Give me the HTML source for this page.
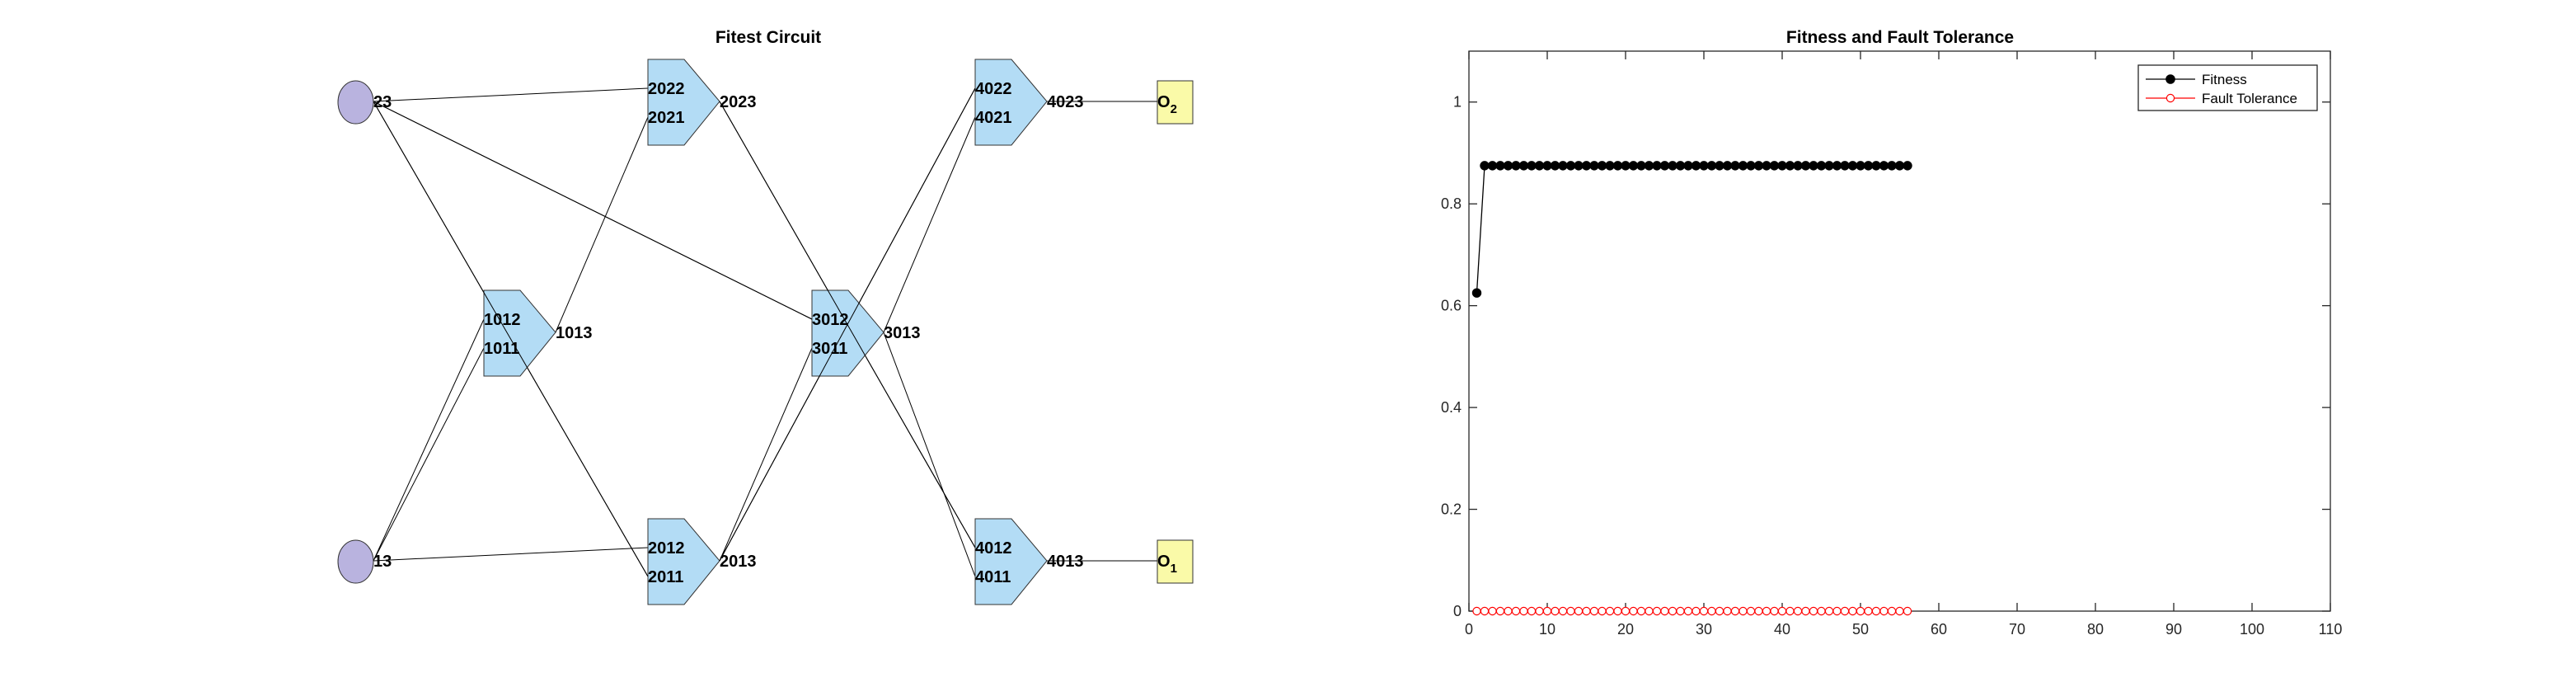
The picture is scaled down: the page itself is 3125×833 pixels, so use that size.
<!DOCTYPE html>
<html><head><meta charset="utf-8"><style>
html,body{margin:0;padding:0;background:#fff;}
svg{display:block;font-family:"Liberation Sans",Arial,sans-serif;}
</style></head><body>
<svg id="root" width="3125" height="833" viewBox="0 0 3125 833" xmlns="http://www.w3.org/2000/svg">
<rect width="3125" height="833" fill="#fff"/>
<g id="circuit">
<text x="932" y="52" text-anchor="middle" font-weight="bold" font-size="21">Fitest Circuit</text>
</g>
<g id="chart">
<text x="2305" y="52" text-anchor="middle" font-weight="bold" font-size="21">Fitness and Fault Tolerance</text>
</g>
</svg>
<script>
// ---------- Chart data ----------
const iterations = Array.from({length:56},(_,i)=>i+1);
const fitnessValues = [0.625,0.875,0.875,0.875,0.875,0.875,0.875,0.875,0.875,0.875,0.875,0.875,0.875,0.875,0.875,0.875,0.875,0.875,0.875,0.875,0.875,0.875,0.875,0.875,0.875,0.875,0.875,0.875,0.875,0.875,0.875,0.875,0.875,0.875,0.875,0.875,0.875,0.875,0.875,0.875,0.875,0.875,0.875,0.875,0.875,0.875,0.875,0.875,0.875,0.875,0.875,0.875,0.875,0.875,0.875,0.875];
const faultToleranceValues = [0,0,0,0,0,0,0,0,0,0,0,0,0,0,0,0,0,0,0,0,0,0,0,0,0,0,0,0,0,0,0,0,0,0,0,0,0,0,0,0,0,0,0,0,0,0,0,0,0,0,0,0,0,0,0,0];
const xTicks = [0,10,20,30,40,50,60,70,80,90,100,110];
const yTicks = [0,0.2,0.4,0.6,0.8,1];
const yTickLabels = ["0","0.2","0.4","0.6","0.8","1"];
const legendLabels = ["Fitness","Fault Tolerance"];

const NS="http://www.w3.org/2000/svg";
function mk(tag,attrs,parent){const e=document.createElementNS(NS,tag);for(const k in attrs)e.setAttribute(k,attrs[k]);parent.appendChild(e);return e;}

const X0=1782,X1=2827,Y0=741,Y1=62,XMAX=110,YMAX=1.1;
const sx=v=>X0+(v/XMAX)*(X1-X0);
const sy=v=>Y0-(v/YMAX)*(Y0-Y1);
const chart=document.getElementById('chart');

const box=mk('rect',{x:X0,y:Y1,width:X1-X0,height:Y0-Y1,fill:'none',stroke:'#262626','stroke-width':1.3},chart);



xTicks.forEach(t=>{
  const x=sx(t);
  const a=mk('line',{x1:x,y1:Y0,x2:x,y2:Y0-10,stroke:'#262626','stroke-width':1.3},chart);
  
  
  const b=mk('line',{x1:x,y1:Y1,x2:x,y2:Y1+10,stroke:'#262626','stroke-width':1.3},chart);
  
  
  const l=mk('text',{x:x,y:Y0+28,'text-anchor':'middle','font-size':18,fill:'#262626'},chart);
  l.textContent=String(t);
  
  
});
yTicks.forEach((t,i)=>{
  const y=sy(t);
  const a=mk('line',{x1:X0,y1:y,x2:X0+10,y2:y,stroke:'#262626','stroke-width':1.3},chart);
  
  
  const b=mk('line',{x1:X1,y1:y,x2:X1-10,y2:y,stroke:'#262626','stroke-width':1.3},chart);
  
  
  const l=mk('text',{x:X0-9,y:y+6,'text-anchor':'end','font-size':18,fill:'#262626'},chart);
  l.textContent=yTickLabels[i];
  
  
});

const fitLine=mk('polyline',{points:iterations.map((x,i)=>sx(x)+','+sy(fitnessValues[i])).join(' '),fill:'none',stroke:'#000','stroke-width':1.3},chart);


const ftLine=mk('polyline',{points:iterations.map((x,i)=>sx(x)+','+sy(faultToleranceValues[i])).join(' '),fill:'none',stroke:'#ff0000','stroke-width':1.3},chart);


iterations.forEach((x,i)=>{
  const c=mk('circle',{cx:sx(x),cy:sy(fitnessValues[i]),r:5.2,fill:'#000',stroke:'#000'},chart);
  
  
});
iterations.forEach((x,i)=>{
  const c=mk('circle',{cx:sx(x),cy:sy(faultToleranceValues[i]),r:4.6,fill:'#fff',stroke:'#ff0000','stroke-width':1.2},chart);
  
  
});

// legend
const lg=mk('g',{},chart);


mk('rect',{x:2594,y:79,width:217,height:55,fill:'#fff',stroke:'#262626','stroke-width':1.3},lg);
const lgColors=['#000','#ff0000'];
legendLabels.forEach((lab,i)=>{
  const y=96+i*23;
  const e=mk('g',{},lg);
  
  
  mk('line',{x1:2603,y1:y,x2:2663,y2:y,stroke:lgColors[i],'stroke-width':1.3},e);
  mk('circle',{cx:2633,cy:y,r:i?4.6:5.2,fill:i?'#fff':'#000',stroke:lgColors[i],'stroke-width':1.2},e);
  const t=mk('text',{x:2671,y:y+6,'font-size':17,fill:'#000'},e);
  t.textContent=lab;
});

// ---------- Circuit ----------
const circ=document.getElementById('circuit');
const colX=[587,786,985,1183];
const rowC=[123,403,680];
function wire(x1,y1,x2,y2,name){
  const l=mk('line',{x1,y1,x2,y2,stroke:'#000','stroke-width':1},circ);
  
  
}
const inTop=c=>c-16, inBot=c=>c+19;
const gates=[
  {id:'1',col:0,row:1},{id:'2',col:1,row:0,sfx:'2'},{id:'2b',col:1,row:2},
  {id:'3',col:2,row:1},{id:'4',col:3,row:0},{id:'4b',col:3,row:2}
];
const gateLabels={ '0-1':['1012','1011','1013'], '1-0':['2022','2021','2023'], '1-2':['2012','2011','2013'],
  '2-1':['3012','3011','3013'], '3-0':['4022','4021','4023'], '3-2':['4012','4011','4013']};
// input nodes
const in23={x:453,y:rowC[0]}, in13={x:453,y:rowC[2]};
const P=(col,row,port)=>{const x=colX[col],c=rowC[row];
  if(port==='a')return [x,inTop(c)]; if(port==='b')return [x,inBot(c)]; return [x+87,c];};
// wires
wire(in23.x,in23.y,...P(1,0,'a'),'wire-23-2022');
wire(in23.x,in23.y,...P(1,2,'b'),'wire-23-2011');
wire(in23.x,in23.y,...P(2,1,'a'),'wire-23-3012');
wire(in13.x,in13.y,...P(1,2,'a'),'wire-13-2012');
wire(in13.x,in13.y,...P(0,1,'a'),'wire-13-1012');
wire(in13.x,in13.y,...P(0,1,'b'),'wire-13-1011');
wire(...P(0,1,'o'),...P(1,0,'b'),'wire-1013-2021');
wire(...P(1,0,'o'),...P(3,2,'a'),'wire-2023-4012');
wire(...P(1,2,'o'),...P(2,1,'b'),'wire-2013-3011');
wire(...P(1,2,'o'),...P(3,0,'a'),'wire-2013-4022');
wire(...P(2,1,'o'),...P(3,0,'b'),'wire-3013-4021');
wire(...P(2,1,'o'),...P(3,2,'b'),'wire-3013-4011');
wire(...P(3,0,'o'),1404,rowC[0],'wire-4023-o2');
wire(...P(3,2,'o'),1404,rowC[2],'wire-4013-o1');

// gates
Object.keys(gateLabels).forEach(k=>{
  const [col,row]=k.split('-').map(Number);
  const x=colX[col],c=rowC[row],top=c-51,bot=c+53;
  const g=mk('g',{},circ);
  
  
  mk('polygon',{points:`${x},${top} ${x+44},${top} ${x+87},${c} ${x+44},${bot} ${x},${bot}`,fill:'#b3dcf5',stroke:'#333','stroke-width':1},g);
  const labs=[[x,inTop(c)],[x,inBot(c)],[x+87,c]];
  labs.forEach((p,i)=>{const t=mk('text',{x:p[0],y:p[1]+7,'font-size':20,'font-weight':'bold'},g);t.textContent=gateLabels[k][i];});
});
// wires on top of gates (redraw through-lines visible over fills)
wire(in23.x,in23.y,...P(1,2,'b'),'wire-23-2011-over');
wire(in23.x,in23.y,...P(2,1,'a'),'wire-23-3012-over');
wire(...P(1,0,'o'),...P(3,2,'a'),'wire-2023-4012-over');
wire(...P(1,2,'o'),...P(3,0,'a'),'wire-2013-4022-over');
// inputs
[[in23,'23'],[in13,'13']].forEach(([n,lab])=>{
  const g=mk('g',{},circ);
  
  
  mk('ellipse',{cx:n.x-21.5,cy:n.y+1,rx:21.5,ry:26,fill:'#b9b3df',stroke:'#333','stroke-width':1},g);
  const t=mk('text',{x:n.x,y:n.y+7,'font-size':20,'font-weight':'bold'},g);t.textContent=lab;
});
// outputs
[[rowC[0],'2'],[rowC[2],'1']].forEach(([y,s])=>{
  const g=mk('g',{},circ);
  
  
  mk('rect',{x:1404,y:y-25,width:43,height:52,fill:'#fafaa8',stroke:'#333','stroke-width':1},g);
  const t=mk('text',{x:1404,y:y+7,'font-size':20,'font-weight':'bold'},g);
  t.textContent='O';
  const sub=mk('tspan',{dy:7,'font-size':15},t);
  sub.textContent=s;
});
</script>
</body></html>
